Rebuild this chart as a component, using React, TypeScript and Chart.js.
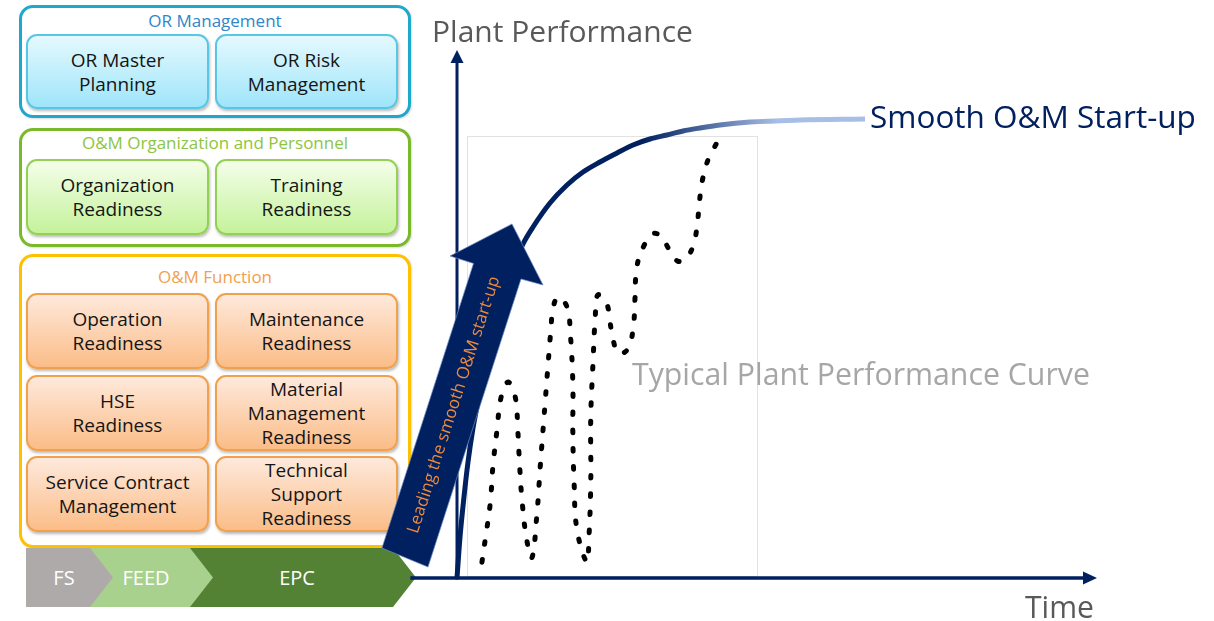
import React, { useEffect, useRef } from 'react';
import { Chart, registerables } from 'chart.js';

Chart.register(...registerables);

// ---------- data (time 0..100, performance 0..100) ----------
const smoothTime = [0, 0.47, 1.09, 1.72, 2.5, 3.44, 5.16, 7.5, 9.06, 10.31, 11.88, 14.53, 17.19, 19.69, 22.34, 25.0, 27.5, 30.16, 32.81, 35.31, 37.97, 41.09, 45.78, 53.59, 63.75];
const smoothPerf = [0, 7.77, 15.34, 21.97, 28.41, 34.28, 44.13, 54.73, 59.66, 63.26, 66.48, 71.02, 74.43, 76.89, 78.79, 80.49, 82.01, 83.14, 83.9, 84.66, 85.23, 85.8, 86.36, 86.74, 86.93];

const typicalTime = [3.9, 4.4, 5.2, 5.6, 6.25, 6.9, 8.0, 9.1, 9.5, 9.8, 10.2, 10.9, 11.7, 12.5, 13.0, 13.6, 14.2, 14.7, 15.0, 15.8, 17.2, 17.7, 18.1, 18.1, 18.3, 18.75, 20.3, 20.6, 20.9, 20.9, 21.25, 21.6, 22.0, 23.3, 23.9, 24.4, 25.2, 26.6, 27.5, 27.8, 28.1, 29.2, 30.6, 32.0, 33.1, 34.5, 35.8, 36.9, 37.5, 37.8, 38.1, 38.6, 39.4, 40.6];
const typicalPerf = [3.0, 7.2, 14.2, 21.0, 28.0, 34.3, 37.1, 34.3, 28.0, 21.0, 14.2, 7.2, 3.8, 12.3, 21.0, 30.5, 40.0, 47.5, 51.1, 53.2, 51.3, 46.4, 36.9, 27.5, 18.0, 9.1, 3.0, 7.2, 18.0, 30.5, 40.7, 49.4, 53.6, 52.3, 48.5, 45.1, 42.6, 43.2, 47.0, 52.7, 58.9, 62.9, 65.2, 64.6, 62.3, 60.0, 60.6, 62.9, 66.5, 70.1, 73.5, 76.7, 79.7, 82.4];

const axisTitleY = 'Plant Performance';
const axisTitleX = 'Time';
const smoothLabel = 'Smooth O&M Start-up';
const typicalLabel = 'Typical Plant Performance Curve';
const arrowLabel = 'Leading the smooth O&M start-up';

const phases = ['FS', 'FEED', 'EPC'];

const groupTitles = ['OR Management', 'O&M Organization and Personnel', 'O&M Function'];
const groupItems = [
  [['OR Master', 'Planning'], ['OR Risk', 'Management']],
  [['Organization', 'Readiness'], ['Training', 'Readiness']],
  [
    ['Operation', 'Readiness'], ['Maintenance', 'Readiness'],
    ['HSE', 'Readiness'], ['Material', 'Management', 'Readiness'],
    ['Service Contract', 'Management'], ['Technical', 'Support', 'Readiness'],
  ],
];

const NAVY = '#002060';
const FONT = '"Open Sans", "Noto Sans", sans-serif';

// ---------- styles ----------
const groupStyles = [
  { top: 5, height: 113, border: '#1ea8cb', title: '#2f86c8', inBorder: '#58c6e4', g1: '#e4f9fe', g2: '#9fe5fa' },
  { top: 128, height: 119, border: '#7ab929', title: '#8cc540', inBorder: '#93d155', g1: '#f4fee9', g2: '#c5f29b' },
  { top: 254, height: 294, border: '#ffc000', title: '#ef9f4f', inBorder: '#f1a04b', g1: '#fee9dc', g2: '#fbbd88' },
];
const titleCenters = [21, 143, 277];
const rowTops = [[34], [159], [293, 375, 456]];
const rowHeight = [75, 76, 76];

function fitText(ctx: CanvasRenderingContext2D, text: string, x: number, y: number, width: number, color: string, align: CanvasTextAlign = 'left', baseline: CanvasTextBaseline = 'alphabetic') {
  ctx.font = `100px ${FONT}`;
  const w = ctx.measureText(text).width;
  const size = (100 * width) / w;
  ctx.font = `${size}px ${FONT}`;
  ctx.fillStyle = color;
  ctx.textAlign = align;
  ctx.textBaseline = baseline;
  ctx.fillText(text, x, y);
}

const overlayPlugin = {
  id: 'overlay',
  beforeDatasetsDraw(chart: any) {
    const { ctx, scales } = chart;
    const px = (v: number) => scales.x.getPixelForValue(v);
    const py = (v: number) => scales.y.getPixelForValue(v);
    ctx.save();
    // faint frame of the typical curve picture
    ctx.strokeStyle = '#e2e2e2';
    ctx.lineWidth = 1;
    const fx0 = Math.round(px(1.56)) + 0.5, fx1 = Math.round(px(46.9)) + 0.5;
    const fy0 = Math.round(py(83.7)) + 0.5, fy1 = Math.round(py(0.4)) + 0.5;
    ctx.strokeRect(fx0, fy0, fx1 - fx0, fy1 - fy0);

    // axes
    const ox = px(0), oy = py(0);
    ctx.strokeStyle = NAVY;
    ctx.fillStyle = NAVY;
    ctx.lineWidth = 3.5;
    ctx.beginPath();
    ctx.moveTo(px(-7.3), oy);
    ctx.lineTo(px(100) - 10, oy);
    ctx.stroke();
    ctx.beginPath();
    ctx.moveTo(px(100), oy);
    ctx.lineTo(px(100) - 14, oy - 6.5);
    ctx.lineTo(px(100) - 14, oy + 6.5);
    ctx.closePath();
    ctx.fill();

    ctx.lineWidth = 3;
    ctx.beginPath();
    ctx.moveTo(ox, oy + 1.5);
    ctx.lineTo(ox, py(100) + 10);
    ctx.stroke();
    ctx.beginPath();
    ctx.moveTo(ox, py(100));
    ctx.lineTo(ox - 6.5, py(100) + 13);
    ctx.lineTo(ox + 6.5, py(100) + 13);
    ctx.closePath();
    ctx.fill();
    ctx.restore();
  },
  afterDatasetsDraw(chart: any) {
    const { ctx, scales } = chart;
    const px = (v: number) => scales.x.getPixelForValue(v);
    const py = (v: number) => scales.y.getPixelForValue(v);
    ctx.save();
    // big arrow (in data units)
    const arrow = [
      [-11.72, 5.68], [2.58, 59.58], [-1.09, 60.98], [8.59, 67.05],
      [13.44, 55.49], [10.0, 56.63], [-4.53, 2.08],
    ];
    ctx.beginPath();
    arrow.forEach(([a, b], i) => (i ? ctx.lineTo(px(a), py(b)) : ctx.moveTo(px(a), py(b))));
    ctx.closePath();
    ctx.fillStyle = NAVY;
    ctx.fill();
    ctx.strokeStyle = 'rgba(110,140,200,0.7)';
    ctx.lineWidth = 1;
    ctx.stroke();

    // arrow text
    const bx = (px(-11.72) + px(-4.53)) / 2, by = (py(5.68) + py(2.08)) / 2;
    const tx = px(8.59), ty = py(67.05);
    const ang = Math.atan2(ty - by, tx - bx);
    ctx.save();
    ctx.translate(px(-0.47), py(32.8));
    ctx.rotate(ang);
    fitText(ctx, arrowLabel, 0, 0, 269, '#ee8a3a', 'center', 'middle');
    ctx.restore();

    // labels
    fitText(ctx, axisTitleY, 432, 42, 261, '#595959');
    fitText(ctx, axisTitleX, 1025, 618, 69, '#595959');
    fitText(ctx, smoothLabel, 870, 128, 326, NAVY);
    fitText(ctx, typicalLabel, 632, 385, 458, '#a6a6a6');
    ctx.restore();
  },
};

function GroupBox({ idx }: { idx: number }) {
  const s = groupStyles[idx];
  const items = groupItems[idx];
  const tops = rowTops[idx];
  return (
    <>
      <div
        style={{
          position: 'absolute', left: 19, top: s.top, width: 392, height: s.height,
          boxSizing: 'border-box', border: `3px solid ${s.border}`, borderRadius: 14,
          background: '#fff', boxShadow: '1px 1px 2px rgba(0,0,0,0.15)',
        }}
      />
      <div
        style={{
          position: 'absolute', left: 19, width: 392, top: titleCenters[idx] - 12, height: 24,
          lineHeight: '24px', textAlign: 'center', color: s.title, fontSize: 17, fontFamily: FONT,
        }}
      >
        {groupTitles[idx]}
      </div>
      {items.map((lines, i) => {
        const row = Math.floor(i / 2);
        const col = i % 2;
        return (
          <div
            key={i}
            style={{
              position: 'absolute', left: col ? 215 : 26, top: tops[row], width: 183, height: rowHeight[idx],
              boxSizing: 'border-box', border: `2px solid ${s.inBorder}`, borderRadius: 11,
              background: `linear-gradient(${s.g1}, ${s.g2})`,
              boxShadow: '1px 2px 3px rgba(0,0,0,0.28)',
              display: 'flex', flexDirection: 'column', alignItems: 'center', justifyContent: 'center',
              fontFamily: FONT, fontSize: 19, lineHeight: '24px', color: '#151515', textAlign: 'center',
            }}
          >
            {lines.map((l, j) => (
              <div key={j} style={{ whiteSpace: 'nowrap' }}>{l}</div>
            ))}
          </div>
        );
      })}
    </>
  );
}

const chevrons = [
  { left: 190, body: 203, color: '#548235', textX: 107 },
  { left: 90, body: 100, color: '#a9d18e', textX: 56 },
  { left: 26, body: 64, color: '#aeaaaa', textX: 38 },
];

export default function App() {
  const ref = useRef<HTMLCanvasElement | null>(null);
  useEffect(() => {
    if (!ref.current) return;
    const chart = new Chart(ref.current, {
      type: 'line',
      data: {
        datasets: [
          {
            label: smoothLabel,
            data: smoothTime.map((t, i) => ({ x: t, y: smoothPerf[i] })),
            borderColor: (c: any) => {
              const ch = c.chart;
              if (!ch.chartArea) return NAVY;
              const g = ch.ctx.createLinearGradient(ch.scales.x.getPixelForValue(29), 0, ch.scales.x.getPixelForValue(50), 0);
              g.addColorStop(0, NAVY);
              g.addColorStop(1, '#a7bee6');
              return g;
            },
            borderWidth: 5,
            cubicInterpolationMode: 'monotone',
            pointRadius: 0,
            clip: false as any,
            order: 2,
          },
          {
            label: typicalLabel,
            data: typicalTime.map((t, i) => ({ x: t, y: typicalPerf[i] })),
            borderColor: '#000000',
            borderWidth: 5,
            borderDash: [2.6, 15.6],
            borderCapStyle: 'round',
            tension: 0.4,
            pointRadius: 0,
            clip: false as any,
            order: 1,
          },
        ],
      },
      options: {
        responsive: false,
        animation: false,
        devicePixelRatio: 1,
        events: [],
        layout: { padding: { left: 457, right: 117, top: 50, bottom: 43 } },
        plugins: { legend: { display: false }, tooltip: { enabled: false } },
        scales: {
          x: { type: 'linear', min: 0, max: 100, display: false },
          y: { type: 'linear', min: 0, max: 100, display: false },
        },
      },
      plugins: [overlayPlugin],
    } as any);
    return () => chart.destroy();
  }, []);

  return (
    <div style={{ position: 'fixed', left: 0, top: 0, width: 1214, height: 621, background: '#fff', overflow: 'hidden' }}>
      <GroupBox idx={0} />
      <GroupBox idx={1} />
      <GroupBox idx={2} />
      {chevrons.map((c, i) => {
        const w = c.body + 23;
        const name = phases[2 - i];
        return (
          <div
            key={i}
            style={{
              position: 'absolute', left: c.left, top: 548, width: w, height: 59, background: c.color,
              clipPath: `polygon(0 0, ${c.body}px 0, ${w}px 50%, ${c.body}px 100%, 0 100%)`,
            }}
          >
            <div
              style={{
                position: 'absolute', left: c.textX - 40, width: 80, top: 0, height: 59, lineHeight: '59px',
                textAlign: 'center', color: '#fff', fontSize: 20, fontFamily: FONT,
              }}
            >
              {name}
            </div>
          </div>
        );
      })}
      <canvas
        ref={ref}
        width={1214}
        height={621}
        style={{ position: 'absolute', left: 0, top: 0, width: 1214, height: 621, pointerEvents: 'none' }}
      />
    </div>
  );
}
